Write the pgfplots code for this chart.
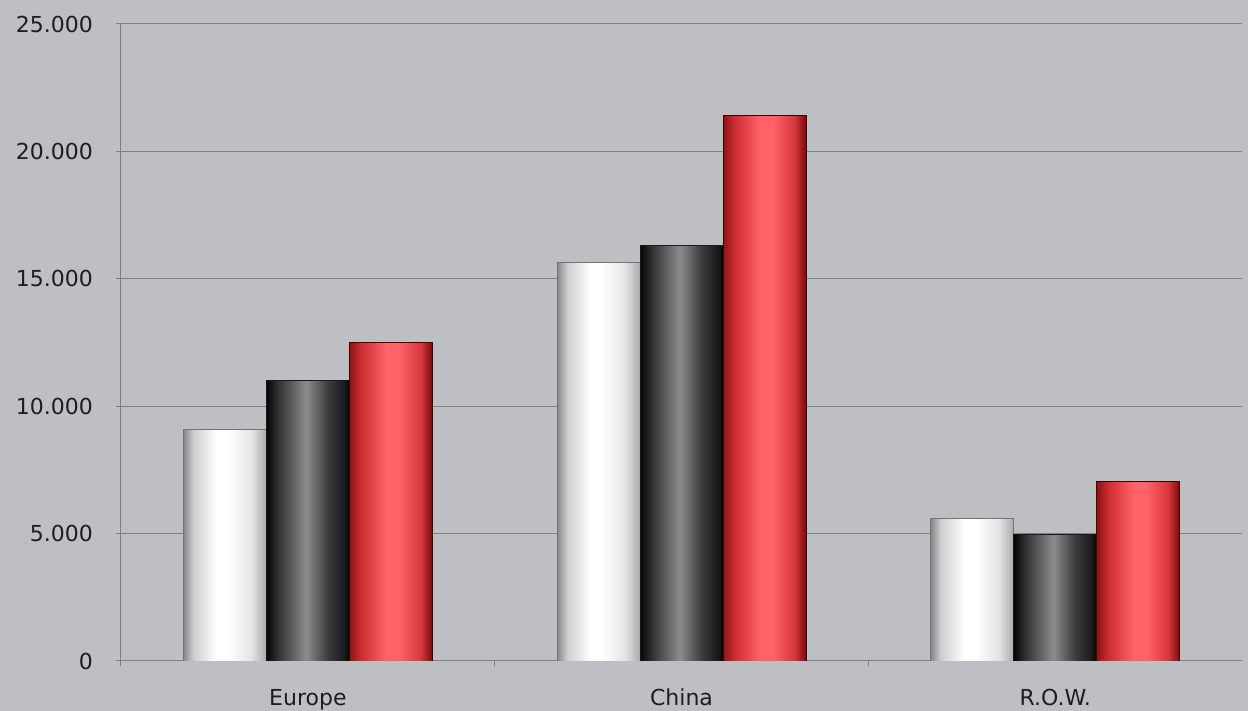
\documentclass[border=0pt]{standalone}
\usepackage{pgfplots}
\pgfplotsset{compat=1.18}
\usepackage{fontspec}
\setmainfont{DejaVu Sans}
\definecolor{bg}{RGB}{190,191,195}
\definecolor{gridc}{RGB}{128,128,130}
\definecolor{txt}{RGB}{30,30,32}
\definecolor{s1}{RGB}{135,135,137}
\definecolor{s2}{RGB}{205,205,207}
\definecolor{s3}{RGB}{255,255,255}
\definecolor{s4}{RGB}{228,228,230}
\definecolor{s5}{RGB}{170,170,172}
\definecolor{d1}{RGB}{5,5,5}
\definecolor{d2}{RGB}{55,55,57}
\definecolor{d3}{RGB}{140,140,142}
\definecolor{d4}{RGB}{60,60,62}
\definecolor{d5}{RGB}{25,25,27}
\definecolor{r1}{RGB}{140,20,22}
\definecolor{r2}{RGB}{205,45,50}
\definecolor{r3}{RGB}{255,98,104}
\definecolor{r4}{RGB}{215,55,60}
\definecolor{r5}{RGB}{120,10,12}
\pgfdeclarehorizontalshading{silver}{100bp}{color(0bp)=(s1);color(25bp)=(s1);color(31bp)=(s2);color(45bp)=(s3);color(52bp)=(s3);color(66bp)=(s4);color(75bp)=(s5);color(100bp)=(s5)}
\pgfdeclarehorizontalshading{darkcyl}{100bp}{color(0bp)=(d1);color(25bp)=(d1);color(33bp)=(d2);color(49bp)=(d3);color(62bp)=(d4);color(72bp)=(d5);color(75bp)=(d1);color(100bp)=(d1)}
\pgfdeclarehorizontalshading{redcyl}{100bp}{color(0bp)=(r1);color(25bp)=(r1);color(32bp)=(r2);color(47bp)=(r3);color(55bp)=(r3);color(68bp)=(r4);color(75bp)=(r5);color(100bp)=(r5)}
\pgfplotsset{
  cylA/.style={draw=black!55, line width=0.4pt, shading=silver, shading angle=0, bar shift=-41.5pt},
  cylB/.style={draw=black!90, line width=0.4pt, shading=darkcyl, shading angle=0, bar shift=0pt},
  cylC/.style={draw=red!25!black, line width=0.4pt, shading=redcyl, shading angle=0, bar shift=41.5pt},
}
\begin{document}
\begin{tikzpicture}[x=1pt,y=1pt]
\fill[bg, use as bounding box] (0,0) rectangle (624,355.5);
\begin{axis}[
  at={(60.5pt,25pt)}, anchor=south west,
  scale only axis, width=560.5pt, height=318.5pt,
  xmin=-0.5, xmax=2.5, ymin=0, ymax=25000,
  axis x line*=bottom, axis y line*=left,
  axis line style={gridc, line width=0.5pt, -},
  ybar=0pt, bar width=41.5pt,
  xtick={0,1,2}, xticklabels={Europe,China,R.O.W.},
  minor xtick={-0.5,0.5,1.5},
  major x tick style={draw=none},
  minor x tick style={gridc, line width=0.5pt},
  ytick={0,5000,10000,15000,20000,25000},
  scaled y ticks=false,
  ymajorgrids, grid style={gridc, line width=0.5pt},
  tick align=outside, major tick length=2.5pt, minor tick length=2.5pt,
  y tick style={gridc, line width=0.5pt},
  /pgf/number format/.cd, 1000 sep={.}, assume math mode=true,
  /pgfplots/.cd,
  tick label style={font=\fontsize{11}{13}\selectfont, text=txt},
  yticklabel style={xshift=-8pt},
  xticklabel style={yshift=-8pt},
]
% Europe
\addplot[cylA] coordinates {(0,9100)};
\addplot[cylB] coordinates {(0,11000)};
\addplot[cylC] coordinates {(0,12500)};
% China
\addplot[cylA] coordinates {(1,15650)};
\addplot[cylB] coordinates {(1,16300)};
\addplot[cylC] coordinates {(1,21400)};
% R.O.W.
\addplot[cylA] coordinates {(2,5600)};
\addplot[cylB] coordinates {(2,4950)};
\addplot[cylC] coordinates {(2,7050)};
\end{axis}
\end{tikzpicture}
\end{document}
